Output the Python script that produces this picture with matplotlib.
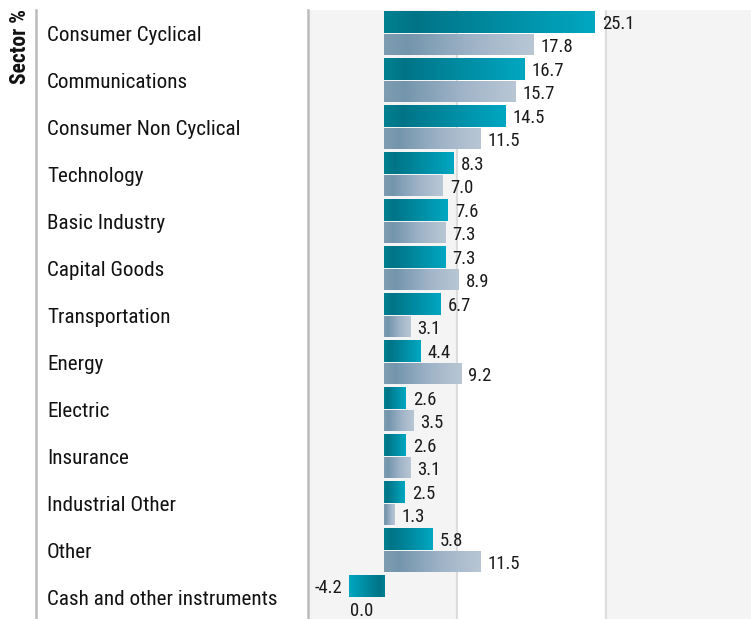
import numpy as np
import matplotlib
matplotlib.use('Agg')
import matplotlib.pyplot as plt
from matplotlib import font_manager
from matplotlib.colors import LinearSegmentedColormap
from matplotlib.lines import Line2D
from matplotlib.patches import Rectangle
import matplotlib.transforms as mtransforms

sectors = ['Consumer Cyclical', 'Communications', 'Consumer Non Cyclical', 'Technology',
           'Basic Industry', 'Capital Goods', 'Transportation', 'Energy', 'Electric',
           'Insurance', 'Industrial Other', 'Other', 'Cash and other instruments']
fund = [25.1, 16.7, 14.5, 8.3, 7.6, 7.3, 6.7, 4.4, 2.6, 2.6, 2.5, 5.8, -4.2]
bench = [17.8, 15.7, 11.5, 7.0, 7.3, 8.9, 3.1, 9.2, 3.5, 3.1, 1.3, 11.5, 0.0]

# look for a condensed face, else plain Roboto
files = [f.fname for f in font_manager.fontManager.ttflist]
def pick(keys):
    for k in keys:
        for f in files:
            if k.lower() in f.lower().replace('-', '').replace('_', ''):
                return f
    return None
reg = pick(['RobotoCondensedRegular', 'RobotoCondensed', 'LiberationSansNarrowRegular', 'DejaVuSansCondensed.'])
bold = pick(['RobotoCondensedBold', 'LiberationSansNarrowBold', 'DejaVuSansCondensedBold'])
cond = reg is not None
fp = font_manager.FontProperties(fname=reg) if cond else font_manager.FontProperties(family='Roboto')
fpb = font_manager.FontProperties(fname=bold) if bold else font_manager.FontProperties(family='Roboto', weight='bold')
sz_cat = 15.2 if cond else 14
sz_val = 13.4 if cond else 12.5

W, H = 751, 619
fig = plt.figure(figsize=(W/100, H/100), dpi=100)
ax = fig.add_axes([308/W, 0, 1-308/W, 1-10/H])
ax.set_facecolor('#f4f4f4')

teal = LinearSegmentedColormap.from_list('teal', [(0, '#00818f'), (0.15, '#007487'), (1, '#00a7c1')])
grey = LinearSegmentedColormap.from_list('grey', [(0, '#7f9db1'), (0.15, '#7395ac'), (0.6, '#a0b4c8'), (1, '#b9c7d4')])
grad = np.linspace(0, 1, 256).reshape(1, -1)

# white middle band and gridlines
ax.add_patch(Rectangle((0.3363, 0), 0.3364, 1, transform=ax.transAxes, color='white', zorder=0))
for f in (0.3363, 0.6727):
    ax.plot([f, f], [0, 1], transform=ax.transAxes, color='#dcdcdc', lw=1.6, zorder=1)

y = np.arange(len(sectors))
b1 = ax.barh(y-0.24, fund, height=0.465, color='none', zorder=2)
b2 = ax.barh(y+0.235, bench, height=0.455, color='none', zorder=2)
for bars, cm in ((b1, teal), (b2, grey)):
    for p in bars:
        x0, w, yb, h = p.get_x(), p.get_width(), p.get_y(), p.get_height()
        if w == 0:
            continue
        im = ax.imshow(grad, cmap=cm, extent=(x0, x0+w, yb+h, yb), aspect='auto', zorder=2,
                       interpolation='bilinear')
        im.set_clip_path(p)

off = mtransforms.offset_copy
for bars, vals in ((b1, fund), (b2, bench)):
    for p, v in zip(bars, vals):
        yc = p.get_y() + p.get_height()/2
        if v > 0:
            t = off(ax.transData, fig=fig, x=7, y=0, units='dots')
            ax.text(v, yc, f'{v:.1f}', transform=t, ha='left', va='center_baseline', fontproperties=fp,
                    fontsize=sz_val, color='#1a1a1a')
        else:
            t = off(ax.transData, fig=fig, x=-6 if v < 0 else -11, y=0, units='dots')
            ax.text(v, yc, f'{v:.1f}', transform=t, ha='right', va='center_baseline', fontproperties=fp,
                    fontsize=sz_val, color='#1a1a1a')

tr = mtransforms.blended_transform_factory(fig.transFigure, ax.transData)
for i, s in enumerate(sectors):
    ax.text(47/W, i, s, transform=tr, ha='left', va='center_baseline', fontproperties=fp,
            fontsize=sz_cat, color='#111111')

ax.set_xlim(-9.05, 43.69)
ax.set_ylim((H-10)/47 - 0.5, -0.5)
for k in ('top', 'right', 'bottom'):
    ax.spines[k].set_visible(False)
ax.spines['left'].set_color('#bbbbbb')
ax.spines['left'].set_linewidth(1.8)
ax.set_xticks([]); ax.set_yticks([])

fig.add_artist(Line2D([36/W, 36/W], [0, 1-10/H], transform=fig.transFigure, color='#bbbbbb', lw=1.8))
fig.text(20/W, 1-9/H, 'Sector %', rotation=90, ha='center', va='top', fontproperties=fpb,
         fontsize=15.5, color='#111111')

fig.savefig('out.png', dpi=100)
